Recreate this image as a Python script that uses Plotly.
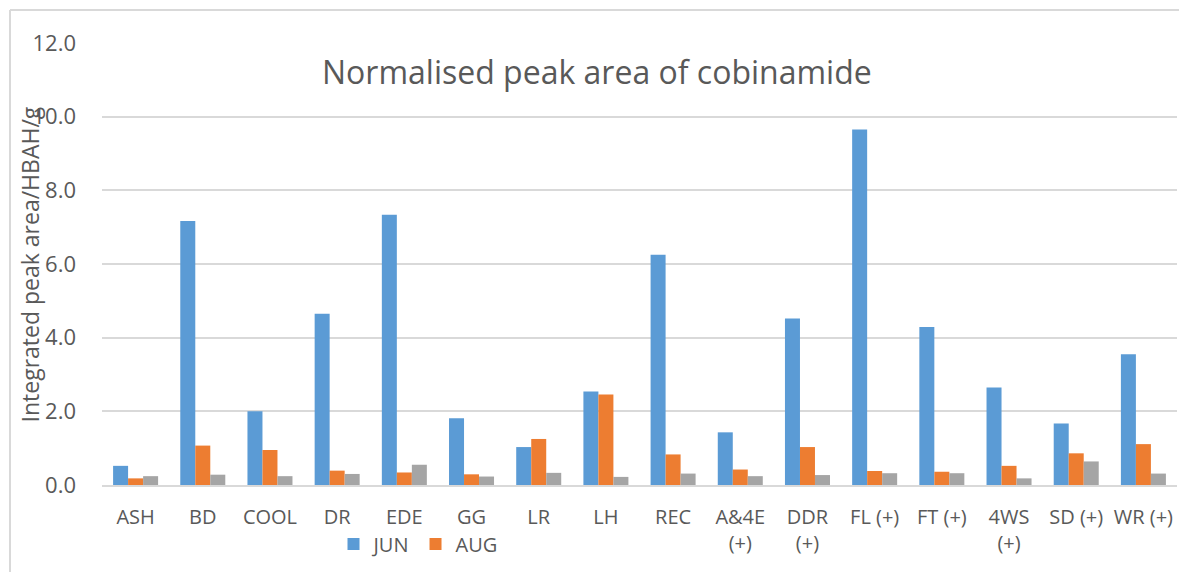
import plotly.graph_objects as go

categories = ["ASH", "BD", "COOL", "DR", "EDE", "GG", "LR", "LH", "REC",
              "A&4E<br>(+)", "DDR<br>(+)", "FL (+)", "FT (+)", "4WS<br>(+)", "SD (+)", "WR (+)"]
jun = [0.52, 7.17, 2.00, 4.65, 7.34, 1.81, 1.03, 2.54, 6.25, 1.43, 4.52, 9.65, 4.29, 2.65, 1.67, 3.55]
aug = [0.18, 1.07, 0.95, 0.39, 0.34, 0.29, 1.25, 2.46, 0.83, 0.42, 1.03, 0.38, 0.36, 0.52, 0.86, 1.11]
third = [0.24, 0.28, 0.24, 0.30, 0.55, 0.23, 0.33, 0.22, 0.31, 0.24, 0.27, 0.32, 0.32, 0.18, 0.64, 0.31]
y_ticks = [0, 2, 4, 6, 8, 10, 12]

FONT = "Open Sans"
TXT = "#595959"
OFF = 8  # page body margin
W, H = 1187 - OFF, 572 - OFF
# plot area in page pixels: x 102..1177, y 43..486
L, T = 102 - OFF, 43 - OFF
R = W - (1177 - OFF)
B = H - (486 - OFF)
pw, ph = W - L - R, H - T - B


def px_x(x):
    return (x - 102) / pw


def px_y(y):
    return (486 - y) / ph


fig = go.Figure()
fig.add_trace(go.Bar(x=categories, y=jun, name="JUN", marker=dict(color="#5B9BD5", line=dict(width=0))))
fig.add_trace(go.Bar(x=categories, y=aug, name="AUG", marker=dict(color="#ED7D31", line=dict(width=0))))
fig.add_trace(go.Bar(x=categories, y=third, name="", showlegend=False,
                     marker=dict(color="#A5A5A5", line=dict(width=0))))

fig.update_layout(
    width=W, height=H,
    margin=dict(l=L, r=R, t=T, b=B),
    paper_bgcolor="white", plot_bgcolor="white",
    barmode="group", bargap=0.33, bargroupgap=0,
    font=dict(family=FONT, color=TXT),
    showlegend=True,
    legend=dict(orientation="h", x=px_x(418), xanchor="center",
                y=px_y(544), yanchor="middle",
                font=dict(size=20, color=TXT), bgcolor="rgba(0,0,0,0)",
                itemwidth=30, tracegroupgap=0),
    xaxis=dict(showgrid=False, showline=True, linecolor="#D9D9D9", linewidth=1.5,
               ticks="", tickfont=dict(size=20, color=TXT), tickangle=0,
               ticklabelstandoff=13),
    yaxis=dict(range=[0, 12], tickvals=y_ticks, tickformat=".1f",
               showgrid=True, gridcolor="#D9D9D9", gridwidth=1.5,
               zeroline=False, showline=False, ticks="",
               tickfont=dict(size=22, color=TXT), ticklabelstandoff=25),
    annotations=[
        dict(text="Normalised peak area of cobinamide", xref="paper", yref="paper",
             x=px_x(597), y=px_y(72), xanchor="center", yanchor="middle",
             showarrow=False, font=dict(size=32, color=TXT, family=FONT)),
        dict(text="Integrated peak area/HBAH/g", xref="paper", yref="paper",
             x=px_x(30), y=px_y(265), xanchor="center", yanchor="middle",
             textangle=-90, showarrow=False, font=dict(size=23, color=TXT, family=FONT)),
    ],
    shapes=[
        dict(type="line", xref="paper", yref="paper",
             x0=px_x(10), x1=px_x(1200), y0=px_y(10), y1=px_y(10),
             line=dict(color="#D9D9D9", width=2), layer="below"),
        dict(type="line", xref="paper", yref="paper",
             x0=px_x(10), x1=px_x(10), y0=px_y(10), y1=px_y(600),
             line=dict(color="#D9D9D9", width=2), layer="below"),
    ],
)

fig.write_html("out.html")
